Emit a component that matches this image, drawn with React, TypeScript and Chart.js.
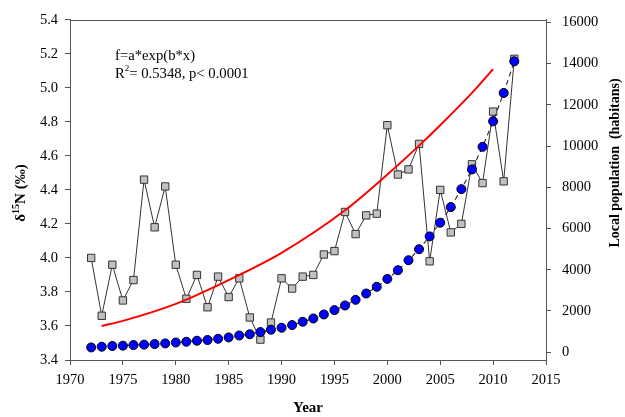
import React, { useEffect, useRef } from "react";
import { Chart, registerables } from "chart.js";

Chart.register(...registerables);

const years: number[] = [
  1972, 1973, 1974, 1975, 1976, 1977, 1978, 1979, 1980, 1981, 1982, 1983, 1984, 1985,
  1986, 1987, 1988, 1989, 1990, 1991, 1992, 1993, 1994, 1995, 1996, 1997, 1998, 1999,
  2000, 2001, 2002, 2003, 2004, 2005, 2006, 2007, 2008, 2009, 2010, 2011, 2012,
];

const delta15N: number[] = [
  4.0, 3.66, 3.96, 3.75, 3.87, 4.46, 4.18, 4.42, 3.96, 3.76, 3.9, 3.71, 3.89, 3.77,
  3.88, 3.65, 3.52, 3.62, 3.88, 3.82, 3.89, 3.9, 4.02, 4.04, 4.27, 4.14, 4.25, 4.26,
  4.78, 4.49, 4.52, 4.67, 3.98, 4.4, 4.15, 4.2, 4.55, 4.44, 4.86, 4.45, 5.17,
];

const population: number[] = [
  230, 265, 300, 315, 345, 365, 395, 425, 470, 505, 555, 590, 650, 715,
  810, 870, 975, 1090, 1185, 1315, 1475, 1635, 1830, 2040, 2265, 2540, 2845, 3170,
  3555, 3975, 4460, 4995, 5615, 6280, 7040, 7910, 8865, 9960, 11200, 12575, 14110,
];

const fitYears: number[] = [1973, 1975, 1980, 1985, 1990, 1996, 2000, 2003, 2005, 2008, 2010];
const fitValues: number[] = [3.6, 3.63, 3.73, 3.87, 4.03, 4.28, 4.49, 4.66, 4.78, 4.97, 5.11];

const popTicks: number[] = [0, 2000, 4000, 6000, 8000, 10000, 12000, 14000, 16000];

const FONT = "'Liberation Serif', 'Times New Roman', serif";
const AXIS = "#555555";

const overlay = {
  id: "overlay",
  afterDraw(chart: any) {
    const { ctx, chartArea } = chart;
    ctx.save();
    // top frame line
    ctx.strokeStyle = AXIS;
    ctx.lineWidth = 1;
    ctx.beginPath();
    ctx.moveTo(chartArea.left, Math.round(chartArea.top) + 0.5);
    ctx.lineTo(chartArea.right, Math.round(chartArea.top) + 0.5);
    ctx.stroke();

    ctx.fillStyle = "#000";
    ctx.textBaseline = "middle";
    ctx.textAlign = "left";
    // annotation
    ctx.font = `14.7px ${FONT}`;
    ctx.fillText("f=a*exp(b*x)", 115, 56);
    let x = 115;
    ctx.fillText("R", x, 74);
    x += ctx.measureText("R").width;
    ctx.font = `9px ${FONT}`;
    ctx.fillText("2", x, 69);
    x += ctx.measureText("2").width;
    ctx.font = `14.7px ${FONT}`;
    ctx.fillText("= 0.5348, p< 0.0001", x, 74);

    // x title
    ctx.font = `bold 15px ${FONT}`;
    ctx.textAlign = "center";
    ctx.fillText("Year", (chartArea.left + chartArea.right) / 2, 408);

    // left title (rotated)
    ctx.save();
    ctx.translate(21, 193);
    ctx.rotate(-Math.PI / 2);
    ctx.textAlign = "left";
    const p1 = "\u03b4";
    const p2 = "15";
    const p3 = "N (\u2030)";
    ctx.font = `bold 15px ${FONT}`;
    const w1 = ctx.measureText(p1).width;
    const w3 = ctx.measureText(p3).width;
    ctx.font = `bold 10px ${FONT}`;
    const w2 = ctx.measureText(p2).width;
    let sx = -(w1 + w2 + w3) / 2;
    ctx.font = `bold 15px ${FONT}`;
    ctx.fillText(p1, sx, 0);
    sx += w1;
    ctx.font = `bold 10px ${FONT}`;
    ctx.fillText(p2, sx, -5);
    sx += w2;
    ctx.font = `bold 15px ${FONT}`;
    ctx.fillText(p3, sx, 0);
    ctx.restore();

    // right title
    ctx.save();
    ctx.translate(615, 163);
    ctx.rotate(-Math.PI / 2);
    ctx.textAlign = "center";
    ctx.font = `bold 14px ${FONT}`;
    ctx.fillText("Local population  (habitans)", 0, 0);
    ctx.restore();

    ctx.restore();
  },
};

export default function App() {
  const ref = useRef<HTMLCanvasElement | null>(null);

  useEffect(() => {
    if (!ref.current) return;
    const chart = new Chart(ref.current, {
      type: "line",
      data: {
        datasets: [
          {
            label: "Population",
            data: years.map((y, i) => ({ x: y, y: population[i] })),
            yAxisID: "y2",
            borderColor: "#333333",
            borderWidth: 1.2,
            borderDash: [5, 4],
            pointStyle: "circle",
            pointRadius: 4.5,
            pointBackgroundColor: "#0000ff",
            pointBorderColor: "#000000",
            pointBorderWidth: 1,
          },
          {
            label: "Fit",
            data: fitYears.map((y, i) => ({ x: y, y: fitValues[i] })),
            yAxisID: "y",
            borderColor: "#ff0000",
            borderWidth: 2,
            pointRadius: 0,
            cubicInterpolationMode: "monotone",
          },
          {
            label: "d15N",
            data: years.map((y, i) => ({ x: y, y: delta15N[i] })),
            yAxisID: "y",
            borderColor: "#333333",
            borderWidth: 1,
            pointStyle: "rect",
            pointRadius: 5.2,
            pointBackgroundColor: "#c0c0c0",
            pointBorderColor: "#333333",
            pointBorderWidth: 1,
          },
        ],
      },
      options: {
        animation: false,
        responsive: false,
        layout: { padding: { top: 18, left: 0, right: 0, bottom: 0 } },
        plugins: { legend: { display: false }, tooltip: { enabled: false } },
        scales: {
          x: {
            type: "linear",
            position: "bottom",
            min: 1970,
            max: 2015,
            ticks: {
              stepSize: 5,
              color: "#000",
              font: { family: FONT, size: 14.5 },
              padding: 6,
              maxRotation: 0,
              callback: (v: any) => String(v),
            },
            grid: { drawOnChartArea: false, drawTicks: true, tickLength: 5, color: AXIS },
            border: { color: AXIS, width: 1 },
            afterFit: (s: any) => { s.height = 57; },
          },
          y: {
            type: "linear",
            position: "left",
            min: 3.4,
            max: 5.4,
            ticks: {
              stepSize: 0.2,
              color: "#000",
              font: { family: FONT, size: 14.5 },
              padding: 7,
              callback: (v: any) => Number(v).toFixed(1),
            },
            grid: { drawOnChartArea: false, drawTicks: true, tickLength: 5, color: AXIS },
            border: { color: AXIS, width: 1 },
            afterFit: (s: any) => { s.width = 70; },
          },
          y2: {
            type: "linear",
            position: "right",
            min: -380,
            max: 16130,
            afterBuildTicks: (s: any) => { s.ticks = popTicks.map((v) => ({ value: v })); },
            ticks: {
              color: "#000",
              font: { family: FONT, size: 14.5 },
              padding: 11,
              callback: (v: any) => String(v),
            },
            grid: { drawOnChartArea: false, drawTicks: true, tickLength: 5, color: AXIS },
            border: { color: AXIS, width: 1 },
            afterFit: (s: any) => { s.width = 79; },
          },
        },
      },
      plugins: [overlay],
    });
    return () => chart.destroy();
  }, []);

  return (
    <div style={{ position: "fixed", left: 0, top: 0, width: 625, height: 417, background: "#fff" }}>
      <canvas ref={ref} width={625} height={417} style={{ display: "block" }} />
    </div>
  );
}
